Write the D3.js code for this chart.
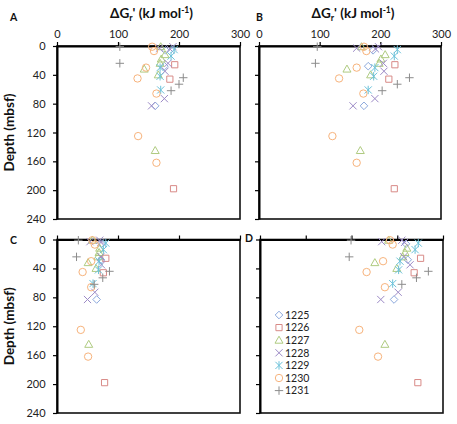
<!DOCTYPE html>
<html><head><meta charset="utf-8">
<script src="https://cdn.jsdelivr.net/npm/d3@7"></script>
<style>body{margin:0;background:#fff}svg{display:block}</style>
</head><body><svg id="c" width="457" height="424"></svg>
<script>
// ---- data ----
const sites = ["1225", "1226", "1227", "1228", "1229", "1230", "1231"];
const depthTicks = [0, 40, 80, 120, 160, 200, 240];
const energyTicksAB = [0, 100, 200, 300];
const energyTicksD = [0, 100, 200, 300, 400];

// depths (mbsf) per site
const depth1225 = [6, 28, 83];
const depth1226 = [26, 46, 198];
const depth1227 = [1, 12, 18, 24, 32, 40, 145];
const depth1228 = [1, 3, 4, 24, 35, 73, 83];
const depth1229 = [5, 14, 30, 42, 61];
const depth1230 = [1, 7, 30, 45, 66, 125, 162];
const depth1231 = [1, 24, 44, 53, 62];

// panel A values (kJ/mol)
const A1225 = [178, 176, 161];
const A1226 = [193, 185, 191];
const A1227 = [170, 177, 171, 169, 143, 166, 161];
const A1228 = [190, 168, 185, 182, 177, 176, 155];
const A1229 = [192, 187, 169, 169, 170];
const A1230 = [156, 159, 146, 132, 163, 133, 163];
const A1231 = [103, 103, 207, 200, 187];
// panel B
const B1225 = [188, 180, 173];
const B1226 = [224, 214, 223];
const B1227 = [169, 208, 201, 198, 145, 184, 167];
const B1228 = [197, 161, 192, 205, 206, 191, 155];
const B1229 = [228, 223, 191, 189, 180];
const B1230 = [173, 177, 161, 132, 172, 121, 161];
const B1231 = [96, 93, 248, 228, 203];
// panel C
const C1225 = [73, 72, 65];
const C1226 = [80, 76, 78];
const C1227 = [58, 70, 69, 67, 51, 64, 52];
const C1228 = [70, 54, 72, 72, 73, 62, 50];
const C1229 = [80, 76, 69, 68, 59];
const C1230 = [58, 62, 56, 42, 56, 39, 51];
const C1231 = [35, 32, 86, 75, 61];
// panel D
const D1225 = [319, 323, 293];
const D1226 = [351, 337, 345];
const D1227 = [281, 321, 317, 312, 251, 299, 273];
const D1228 = [310, 266, 316, 314, 328, 302, 264];
const D1229 = [346, 339, 306, 303, 290];
const D1230 = [284, 290, 269, 233, 273, 217, 258];
const D1231 = [199, 195, 368, 342, 310];

const depthBySite = [depth1225, depth1226, depth1227, depth1228, depth1229, depth1230, depth1231];
const valuesByPanel = {
  A: [A1225, A1226, A1227, A1228, A1229, A1230, A1231],
  B: [B1225, B1226, B1227, B1228, B1229, B1230, B1231],
  C: [C1225, C1226, C1227, C1228, C1229, C1230, C1231],
  D: [D1225, D1226, D1227, D1228, D1229, D1230, D1231]
};

// ---- styling ----
const colors = ["#8ba8dc", "#d88a87", "#afcb80", "#9c8ac6", "#6cc2da", "#f7b37c", "#8c8c8c"];
const FONT = "Lato, 'Open Sans', sans-serif";

function markerPath(i) {
  const p = d3.path();
  if (i === 0) { const r = 3.8; p.moveTo(0,-r); p.lineTo(r,0); p.lineTo(0,r); p.lineTo(-r,0); p.closePath(); }
  else if (i === 1) { const r = 3.1; p.rect(-r,-r,2*r,2*r); }
  else if (i === 2) { const r = 4; p.moveTo(0,-r); p.lineTo(r,r*0.75); p.lineTo(-r,r*0.75); p.closePath(); }
  else if (i === 3) { const r = 3.6; p.moveTo(-r,-r); p.lineTo(r,r); p.moveTo(-r,r); p.lineTo(r,-r); }
  else if (i === 4) { const r = 3.6; p.moveTo(-r,-r); p.lineTo(r,r); p.moveTo(-r,r); p.lineTo(r,-r); p.moveTo(0,-r-0.6); p.lineTo(0,r+0.6); }
  else if (i === 5) { p.arc(0,0,3.7,0,Math.PI*2); }
  else { const r = 4.2; p.moveTo(-r,0); p.lineTo(r,0); p.moveTo(0,-r); p.lineTo(0,r); }
  return p.toString();
}

const svg = d3.select("#c");
svg.append("rect").attr("width",457).attr("height",424).attr("fill","#fff");

const panels = [
  {key:"A", left:57, right:240, top:46, bottom:219, xmax:300, ticks:energyTicksAB, topLabels:true, leftLabels:true, lx:10, ly:21},
  {key:"B", left:259, right:441, top:46, bottom:219, xmax:300, ticks:energyTicksAB, topLabels:true, leftLabels:false, lx:256, ly:21},
  {key:"C", left:57, right:240, top:239.5, bottom:413, xmax:300, ticks:energyTicksAB, topLabels:false, leftLabels:true, lx:10, ly:244},
  {key:"D", left:260, right:443, top:239.5, bottom:413, xmax:400, ticks:energyTicksD, topLabels:false, leftLabels:false, lx:245, ly:242}
];

panels.forEach(P => {
  const x = d3.scaleLinear().domain([0, P.xmax]).range([P.left, P.right]);
  const y = d3.scaleLinear().domain([0, 240]).range([P.top, P.bottom]);
  const g = svg.append("g");

  g.append("rect").attr("x",P.left).attr("y",P.top).attr("width",P.right-P.left).attr("height",P.bottom-P.top)
    .attr("fill","none").attr("stroke","#111").attr("stroke-width",1.6);

  const ax = g.append("g").attr("transform",`translate(0,${P.top})`)
    .call(d3.axisTop(x).tickValues(P.ticks).tickSize(4).tickSizeOuter(0).tickFormat(P.topLabels ? d3.format("d") : ""));
  ax.select(".domain").attr("stroke","#000").attr("stroke-width",2);
  ax.selectAll(".tick line").attr("stroke","#000").attr("stroke-width",1.2);
  ax.selectAll(".tick text").attr("font-family",FONT).attr("font-size",11).attr("fill","#222").attr("dy","-0.1em");

  const ay = g.append("g").attr("transform",`translate(${P.left},0)`)
    .call(d3.axisLeft(y).tickValues(depthTicks).tickSize(4).tickSizeOuter(0).tickFormat(P.leftLabels ? d3.format("d") : ""));
  ay.select(".domain").attr("stroke","#000").attr("stroke-width",2);
  ay.selectAll(".tick line").attr("stroke","#000").attr("stroke-width",1.2);
  ay.selectAll(".tick text").attr("font-family",FONT).attr("font-size",11).attr("fill","#222").attr("dx","-0.4em");

  sites.forEach((s, si) => {
    const vals = valuesByPanel[P.key][si];
    const deps = depthBySite[si];
    g.selectAll(null).data(vals.map((v,k)=>({v, d:deps[k]}))).enter().append("path")
      .attr("d", markerPath(si))
      .attr("transform", d => `translate(${x(d.v)},${y(d.d)})`)
      .attr("fill","none").attr("stroke",colors[si]).attr("stroke-width",1);
  });

  svg.append("text").attr("x",P.lx).attr("y",P.ly).text(P.key)
    .attr("font-family",FONT).attr("font-weight","bold").attr("font-size",10.5).attr("fill","#111");

  if (P.topLabels) {
    const t = svg.append("text").attr("x",(P.left+P.right)/2 + 3).attr("y",18).attr("text-anchor","middle")
      .attr("font-family",FONT).attr("font-weight","bold").attr("font-size",13.5).attr("fill","#111");
    t.append("tspan").text("ΔG");
    t.append("tspan").text("r").attr("font-size",9).attr("dy",3);
    t.append("tspan").text("'").attr("dy",-3);
    t.append("tspan").text(" (kJ mol");
    t.append("tspan").text("-1").attr("font-size",8.5).attr("dy",-5);
    t.append("tspan").text(")").attr("dy",5);
  }
  if (P.leftLabels) {
    svg.append("text").attr("transform",`translate(14,${(P.top+P.bottom)/2}) rotate(-90)`)
      .attr("text-anchor","middle").text("Depth (mbsf)")
      .attr("font-family",FONT).attr("font-weight","bold").attr("font-size",13.5).attr("fill","#111");
  }
});

const leg = svg.append("g");
sites.forEach((s, i) => {
  const yy = 315 + i * 12.6;
  leg.append("path").attr("d", markerPath(i)).attr("transform",`translate(279,${yy})`)
    .attr("fill","none").attr("stroke",colors[i]).attr("stroke-width",1);
  leg.append("text").attr("x",285).attr("y",yy+3.8).text(s)
    .attr("font-family",FONT).attr("font-size",10.5).attr("fill","#222");
});
</script></body></html>
